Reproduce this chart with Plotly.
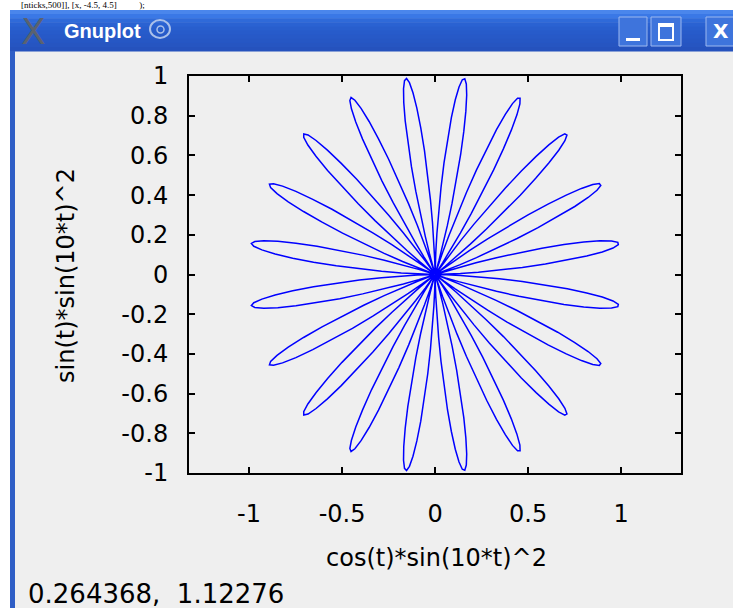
import numpy as np
import plotly.graph_objects as go

# ---- data (parametric curve as plotted: cos(t)*sin(10*t)^2, sin(t)*sin(10*t)^2) ----
N_SAMPLES = 500
T_START = 0.0
T_END = 2 * np.pi
PETAL_FREQ = 10

X_TICKS = [-1, -0.5, 0, 0.5, 1]
X_TICK_LABELS = ["-1", "-0.5", "0", "0.5", "1"]
Y_TICKS = [-1, -0.8, -0.6, -0.4, -0.2, 0, 0.2, 0.4, 0.6, 0.8, 1]
Y_TICK_LABELS = ["-1", "-0.8", "-0.6", "-0.4", "-0.2", "0", "0.2", "0.4", "0.6", "0.8", "1"]

X_LABEL = "cos(t)*sin(10*t)^2"
Y_LABEL = "sin(t)*sin(10*t)^2"
STATUS_TEXT = "0.264368,  1.12276"
WINDOW_TITLE = "Gnuplot"
TOP_TEXT = "[nticks,500]], [x, -4.5, 4.5]          );"

t = np.linspace(T_START, T_END, N_SAMPLES)
xs = np.cos(t) * np.sin(PETAL_FREQ * t) ** 2
ys = np.sin(t) * np.sin(PETAL_FREQ * t) ** 2

# ---- layout geometry (pixels) ----
W, H = 733, 608
L, R, T, B = 189, 681, 76, 473
PW, PH = R - L, B - T


def px(x):
    return (x - L) / PW


def py(y):
    return (B - y) / PH


FONT = "DejaVu Sans"

fig = go.Figure()
fig.add_trace(go.Scatter(x=xs, y=ys, mode="lines",
                         line=dict(color="#0000ff", width=1.5),
                         hoverinfo="skip", showlegend=False))

shapes = []


def rect(x0, y0, x1, y1, fill, line=None, lw=0, layer="below"):
    shapes.append(dict(type="rect", xref="paper", yref="paper",
                       x0=px(x0), x1=px(x1), y0=py(y1), y1=py(y0),
                       fillcolor=fill, line=dict(color=line or fill, width=lw),
                       layer=layer))


# top white strip and left white margin
rect(0, 0, W, 10, "#ffffff")
rect(0, 10, 10, H, "#ffffff")
# title bar gradient
bands = ["#4a86ec", "#3a78e6", "#2f6ad9", "#2a62d2", "#285ecd", "#275bca",
         "#2759c7", "#2657c4", "#2655c1", "#2552bd"]
bh = 41 / len(bands)
for i, c in enumerate(bands):
    rect(10, 10 + i * bh, W, 10 + (i + 1) * bh + 0.5, c)
# left window border
rect(10, 51, 15, H, "#2f5ec6")

# title bar buttons
for (x0, x1) in [(619, 647), (651, 681), (706, 740)]:
    shapes.append(dict(type="rect", xref="paper", yref="paper",
                       x0=px(x0), x1=px(x1), y0=py(46), y1=py(17),
                       fillcolor="#3e74dc", line=dict(color="#9cb8ef", width=1),
                       layer="above"))
# minimize bar
rect(626, 38, 640, 41, "#ffffff", layer="above")
# maximize square
shapes.append(dict(type="rect", xref="paper", yref="paper",
                   x0=px(659), x1=px(673), y0=py(40), y1=py(24),
                   fillcolor="rgba(0,0,0,0)", line=dict(color="#ffffff", width=2),
                   layer="above"))
rect(659, 24, 673, 27, "#ffffff", layer="above")
# swirl logo approximation
shapes.append(dict(type="circle", xref="paper", yref="paper",
                   x0=px(150), x1=px(170), y0=py(38), y1=py(20),
                   fillcolor="rgba(0,0,0,0)", line=dict(color="#aac0ea", width=2),
                   layer="above"))
shapes.append(dict(type="circle", xref="paper", yref="paper",
                   x0=px(157), x1=px(164), y0=py(33), y1=py(26),
                   fillcolor="rgba(0,0,0,0)", line=dict(color="#aac0ea", width=1.5),
                   layer="above"))

annotations = [
    dict(text=X_LABEL, x=px(436), y=py(558), xref="paper", yref="paper",
         showarrow=False, font=dict(family=FONT, size=24, color="black"),
         xanchor="center", yanchor="middle"),
    dict(text=Y_LABEL, x=px(66), y=py(276), xref="paper", yref="paper",
         showarrow=False, textangle=-90,
         font=dict(family=FONT, size=24, color="black"),
         xanchor="center", yanchor="middle"),
    dict(text=STATUS_TEXT, x=px(26), y=py(594), xref="paper", yref="paper",
         showarrow=False, font=dict(family=FONT, size=26, color="black"),
         xanchor="left", yanchor="middle"),
    dict(text="<b>" + WINDOW_TITLE + "</b>", x=px(62), y=py(31), xref="paper", yref="paper",
         showarrow=False, font=dict(family="Liberation Sans Narrow, Liberation Sans", size=20, color="#ffffff"),
         xanchor="left", yanchor="middle"),
    dict(text="X", x=px(33), y=py(31), xref="paper", yref="paper",
         showarrow=False, font=dict(family="DejaVu Sans", size=36, color="#5a6270"),
         xanchor="center", yanchor="middle"),
    dict(text="<b>X</b>", x=px(721), y=py(31), xref="paper", yref="paper",
         showarrow=False, font=dict(family="DejaVu Sans", size=20, color="#ffffff"),
         xanchor="center", yanchor="middle"),
    dict(text=TOP_TEXT, x=px(20), y=py(5), xref="paper", yref="paper",
         showarrow=False, font=dict(family="Liberation Serif", size=9, color="black"),
         xanchor="left", yanchor="middle", borderpad=0),
]

axis_common = dict(showline=True, linecolor="black", linewidth=2, mirror="ticks",
                   ticks="inside", ticklen=6, tickwidth=2, tickcolor="black",
                   showgrid=False, zeroline=False,
                   tickfont=dict(family=FONT, size=24, color="black"))

fig.update_layout(
    width=W, height=H,
    margin=dict(l=L, r=W - R, t=T, b=H - B, pad=0),
    paper_bgcolor="#efefef", plot_bgcolor="#efefef",
    xaxis=dict(range=[-1.323, 1.322], tickvals=X_TICKS, ticktext=X_TICK_LABELS,
               ticklabelstandoff=18, **axis_common),
    yaxis=dict(range=[-1, 1], tickvals=Y_TICKS, ticktext=Y_TICK_LABELS,
               ticklabelstandoff=14, **axis_common),
    shapes=shapes, annotations=annotations, showlegend=False,
)

fig.write_html("out.html", config={"displayModeBar": False})
